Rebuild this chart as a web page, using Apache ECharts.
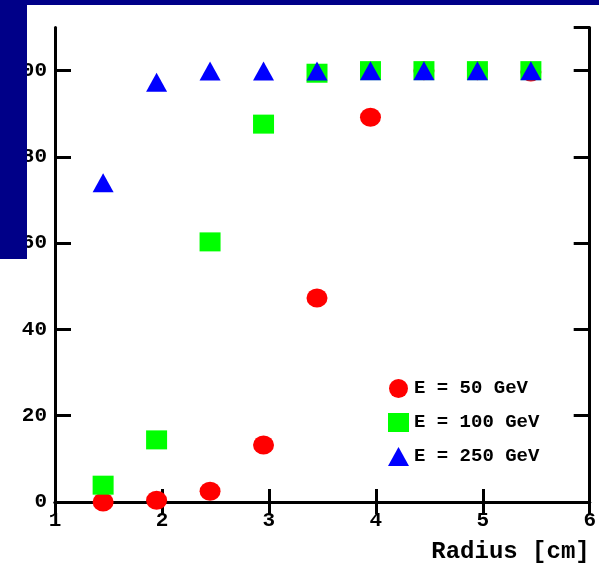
<!DOCTYPE html>
<html>
<head>
<meta charset="utf-8">
<script src="https://cdn.jsdelivr.net/npm/echarts@6/dist/echarts.min.js"></script>
<style>
html,body{margin:0;padding:0;background:#fff;}
#c{width:599px;height:566px;}
</style>
</head>
<body>
<div id="c"></div>
<script>
const radius = [1.45, 1.95, 2.45, 2.95, 3.45, 3.95, 4.45, 4.95, 5.45];
const e50 = [0, 0.4, 2.5, 13.2, 47.3, 89.2, 100, 100, 99.7];
const e100 = [3.9, 14.4, 60.3, 87.6, 99.4, 100, 100, 100, 100];
const e250 = [74.0, 97.3, 99.9, 99.9, 99.9, 100, 100, 100, 100];
const seriesNames = ['E = 50 GeV', 'E = 100 GeV', 'E = 250 GeV'];
const xTicks = [1, 2, 3, 4, 5, 6];
const yTicks = [0, 20, 40, 60, 80, 100];

const FONT = 'Liberation Mono';
const pairs = ys => radius.map((x, i) => [x, ys[i]]);

const chart = echarts.init(document.getElementById('c'), null, {renderer: 'canvas'});
const lineStyle = {color: '#000', width: 3};
const labelStyle = {fontFamily: FONT, fontWeight: 'bold', fontSize: 21, color: '#000'};

chart.setOption({
  backgroundColor: '#fff',
  animation: false,
  grid: {left: 55, right: 6.5, top: 27.5, bottom: 64},
  xAxis: [{
    type: 'value', position: 'bottom',
    min: xTicks[0], max: xTicks[xTicks.length - 1], interval: 1,
    axisLine: {lineStyle},
    axisTick: {inside: true, length: 13, lineStyle},
    splitLine: {show: false},
    axisLabel: Object.assign({margin: 8}, labelStyle),
    name: 'Radius [cm]', nameLocation: 'end', nameGap: 0,
    nameTextStyle: {fontFamily: FONT, fontWeight: 'bold', fontSize: 24, color: '#000',
      align: 'right', verticalAlign: 'top', padding: [38, 0, 0, 0]}
  }, {
    type: 'value', position: 'top',
    min: xTicks[0], max: xTicks[xTicks.length - 1], interval: 1,
    axisLine: {lineStyle},
    axisTick: {inside: true, length: 12, lineStyle},
    splitLine: {show: false},
    axisLabel: {show: false}
  }],
  yAxis: [{
    type: 'value', position: 'left',
    min: yTicks[0], max: 110, interval: 20,
    axisLine: {lineStyle},
    axisTick: {inside: true, length: 16, lineStyle},
    splitLine: {show: false},
    axisLabel: Object.assign({margin: 8, showMaxLabel: false,
      formatter: v => (yTicks.indexOf(v) >= 0 ? String(v) : '')}, labelStyle)
  }, {
    type: 'value', position: 'right',
    min: yTicks[0], max: 110, interval: 20,
    axisLine: {lineStyle},
    axisTick: {inside: true, length: 16, lineStyle},
    splitLine: {show: false},
    axisLabel: {show: false}
  }],
  legend: {
    orient: 'vertical',
    left: 383, top: 374,
    itemWidth: 21, itemHeight: 19, itemGap: 15,
    textStyle: {fontFamily: FONT, fontWeight: 'bold', fontSize: 19, color: '#000'},
    data: [
      {name: seriesNames[0], icon: 'circle'},
      {name: seriesNames[1], icon: 'rect'},
      {name: seriesNames[2], icon: 'triangle'}
    ]
  },
  series: [
    {name: seriesNames[0], type: 'scatter', symbol: 'circle', symbolSize: [21, 19], clip: false,
      itemStyle: {color: '#ff0000', opacity: 1}, data: pairs(e50), z: 3},
    {name: seriesNames[1], type: 'scatter', symbol: 'rect', symbolSize: [21, 19], clip: false,
      itemStyle: {color: '#00ff00', opacity: 1}, data: pairs(e100), z: 4},
    {name: seriesNames[2], type: 'scatter', symbol: 'triangle', symbolSize: [21, 19], clip: false,
      itemStyle: {color: '#0000ff', opacity: 1}, data: pairs(e250), z: 5}
  ],
  graphic: [
    {type: 'rect', z: 100, shape: {x: 0, y: 0, width: 599, height: 5}, style: {fill: '#000088'}},
    {type: 'rect', z: 100, shape: {x: 0, y: 0, width: 27, height: 259}, style: {fill: '#000088'}}
  ]
});
</script>
</body>
</html>
